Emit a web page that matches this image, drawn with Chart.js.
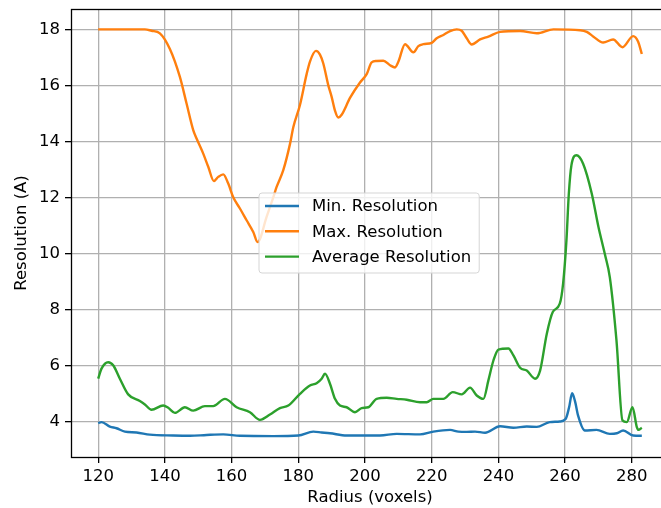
<!DOCTYPE html>
<html lang="en">
<head>
    <meta charset="UTF-8">
    <title>Resolution vs Radius</title>
    <style>
        html, body {
            margin: 0;
            padding: 0;
            background: #fff;
            overflow: hidden;
        }
        canvas {
            display: block;
        }
    </style>
</head>
<body>
    <canvas id="chart" width="672" height="508"></canvas>

    <script src="https://cdn.jsdelivr.net/npm/chart.js@4.4.0/dist/chart.umd.min.js"></script>
    <script>
        // ---- data ----
        const minRadius = [120, 121, 123.5, 125.5, 128, 131.5, 135.5, 142.5, 147.5, 152.5,
            157.5, 162.5, 172.5, 180, 184.5, 187, 189.5, 194.5, 204.5, 209.5,
            216.5, 220.5, 225.5, 228, 230.5, 233, 236, 240.5, 244.5, 248.5,
            251.5, 255.4, 258.4, 260.2, 261.2, 262.1, 263, 263.9, 265.9, 269.4,
            273.4, 275.5, 277.4, 280.4, 283];
        const minRes = [3.93, 3.97, 3.81, 3.75, 3.63, 3.6, 3.52, 3.49, 3.48, 3.51,
            3.53, 3.48, 3.47, 3.49, 3.63, 3.60, 3.57, 3.49, 3.49, 3.55,
            3.53, 3.63, 3.69, 3.63, 3.62, 3.63, 3.59, 3.82, 3.77, 3.81,
            3.80, 3.97, 3.99, 4.09, 4.5, 5.0, 4.7, 4.2, 3.67, 3.69,
            3.55, 3.57, 3.67, 3.49, 3.48];

        const maxRadius = [120, 125, 130, 134, 136, 138.5, 141.5, 144.5, 146.5, 148.5,
            149.5, 151.5, 153, 154.7, 156, 157.5, 159, 160.5, 162.5, 164.5,
            166.5, 167.8, 170.5, 172.5, 173.5, 175.5, 177.5, 178.5, 180.5, 182.5,
            183.5, 185.3, 186.5, 187.5, 189, 190, 191, 192, 193, 195.5,
            198.5, 200.5, 202, 203.5, 205.5, 207.5, 209, 210, 212, 214.5,
            216, 217.5, 220, 221.5, 223.5, 225.5, 227.5, 229, 230.5, 232,
            234.5, 237, 240.5, 246.5, 251.5, 256.5, 264.5, 266.5, 268.5, 271.4,
            274.4, 277.2, 280.4, 281.9, 283];
        const maxRes = [18, 18, 18, 18, 17.95, 17.86, 17.3, 16.3, 15.35, 14.4,
            14.1, 13.56, 13.09, 12.58, 12.73, 12.82, 12.49, 12.0, 11.6, 11.18,
            10.76, 10.4, 11.3, 12.0, 12.37, 12.97, 13.9, 14.5, 15.3, 16.4,
            16.85, 17.23, 17.1, 16.78, 16.0, 15.59, 15.1, 14.85, 14.95, 15.55,
            16.1, 16.4, 16.82, 16.87, 16.88, 16.72, 16.64, 16.84, 17.47, 17.18,
            17.4, 17.47, 17.52, 17.68, 17.8, 17.94, 18.0, 17.95, 17.68, 17.46,
            17.64, 17.74, 17.91, 17.94, 17.86, 18.0, 17.97, 17.91, 17.74, 17.53,
            17.64, 17.36, 17.76, 17.56, 17.12];

        const avgRadius = [120, 121, 123, 124.5, 126.5, 129, 132.5, 134, 136, 139.5,
            141, 143, 146, 148.5, 152, 154.5, 158, 161.5, 165.5, 168.5,
            171.5, 174.5, 177, 180.5, 183.5, 185.5, 187, 188, 189.5, 191,
            192.5, 194.5, 197, 199, 201, 203.5, 206.5, 209.5, 212.5, 216.5,
            218.5, 220.5, 223.5, 226.3, 229, 231.5, 233.5, 235.5, 237, 238.5,
            240, 243, 244.5, 246.5, 248.5, 251, 252.5, 254.5, 256.3, 258.4,
            259.4, 260.4, 261.1, 261.9, 263.4, 265.4, 268, 270, 272, 273.4,
            275.4, 277.2, 278.5, 280.2, 281.5, 282, 283];
        const avgRes = [5.52, 5.88, 6.11, 6.0, 5.52, 4.96, 4.72, 4.6, 4.41, 4.56,
            4.48, 4.30, 4.50, 4.38, 4.54, 4.54, 4.80, 4.50, 4.32, 4.05,
            4.24, 4.47, 4.56, 4.98, 5.28, 5.36, 5.52, 5.70, 5.34, 4.80,
            4.56, 4.5, 4.32, 4.47, 4.5, 4.80, 4.84, 4.80, 4.77, 4.68,
            4.68, 4.8, 4.8, 5.04, 4.96, 5.2, 4.92, 4.80, 5.46, 6.17,
            6.56, 6.6, 6.35, 5.91, 5.81, 5.52, 5.81, 7.12, 7.9, 8.2,
            8.92, 10.46, 12.1, 13.15, 13.5, 13.2, 12.13, 10.94, 9.93, 9.15,
            6.89, 4.03, 3.97, 4.5, 3.79, 3.69, 3.77];

        const seriesNames = ['Min. Resolution', 'Max. Resolution', 'Average Resolution'];
        const seriesColors = ['#1f77b4', '#ff7f0e', '#2ca02c'];
        const xTicks = [120, 140, 160, 180, 200, 220, 240, 260, 280];
        const yTicks = [4, 6, 8, 10, 12, 14, 16, 18];

        const toPoints = (xs, ys) => xs.map((x, i) => ({ x: x, y: ys[i] }));

        const FONT = "'DejaVu Sans', sans-serif";
        const FONT_SIZE = 16.5;
        Chart.defaults.color = '#000';
        Chart.defaults.font.family = FONT;
        Chart.defaults.font.size = FONT_SIZE;

        // axes box (all four spines) + legend placed inside the plot
        const framePlugin = {
            id: 'frame',
            afterDraw(chart) {
                const { ctx, chartArea: a } = chart;
                ctx.save();
                ctx.strokeStyle = '#000';
                ctx.lineWidth = 1.3;
                ctx.strokeRect(Math.round(a.left) + 0.5, Math.round(a.top) + 0.5,
                    Math.round(a.right - a.left), Math.round(a.bottom - a.top));

                // legend
                ctx.font = FONT_SIZE + 'px ' + FONT;
                const sets = chart.data.datasets;
                let textW = 0;
                sets.forEach(ds => { textW = Math.max(textW, ctx.measureText(ds.label).width); });
                const bx = a.left + 188;
                const by = a.top + 184;
                const bw = 53 + textW + 8;
                const bh = 80;
                const r = 3;
                ctx.beginPath();
                ctx.moveTo(bx + r, by);
                ctx.arcTo(bx + bw, by, bx + bw, by + bh, r);
                ctx.arcTo(bx + bw, by + bh, bx, by + bh, r);
                ctx.arcTo(bx, by + bh, bx, by, r);
                ctx.arcTo(bx, by, bx + bw, by, r);
                ctx.closePath();
                ctx.fillStyle = 'rgba(255,255,255,0.8)';
                ctx.fill();
                ctx.strokeStyle = '#d5d5d5';
                ctx.lineWidth = 1;
                ctx.stroke();

                ctx.textBaseline = 'middle';
                ctx.textAlign = 'left';
                sets.forEach((ds, i) => {
                    const yy = by + 13 + i * 25.3;
                    ctx.strokeStyle = ds.borderColor;
                    ctx.lineWidth = 2.4;
                    ctx.beginPath();
                    ctx.moveTo(bx + 6, yy);
                    ctx.lineTo(bx + 40, yy);
                    ctx.stroke();
                    ctx.fillStyle = '#000';
                    ctx.fillText(ds.label, bx + 53, yy + 1);
                });
                ctx.restore();
            }
        };

        const ctx = document.getElementById('chart');

        new Chart(ctx, {
            type: 'line',
            data: {
                datasets: [
                    { label: seriesNames[0], data: toPoints(minRadius, minRes), borderColor: seriesColors[0], order: 3 },
                    { label: seriesNames[1], data: toPoints(maxRadius, maxRes), borderColor: seriesColors[1], order: 2 },
                    { label: seriesNames[2], data: toPoints(avgRadius, avgRes), borderColor: seriesColors[2], order: 1 }
                ]
            },
            options: {
                responsive: false,
                animation: false,
                devicePixelRatio: 1,
                layout: {
                    padding: { top: 9, right: 3, left: 0, bottom: 0 }
                },
                elements: {
                    point: { radius: 0 },
                    line: { borderWidth: 2.4, fill: false, cubicInterpolationMode: 'monotone' }
                },
                plugins: {
                    legend: { display: false },
                    tooltip: { enabled: false }
                },
                scales: {
                    x: {
                        type: 'linear',
                        min: 111.85,
                        max: 291.15,
                        afterBuildTicks: (scale) => {
                            scale.ticks = xTicks.map(v => ({ value: v }));
                        },
                        afterFit: (scale) => {
                            scale.height = 51;
                            scale.paddingLeft = 0;
                            scale.paddingRight = 0;
                        },
                        ticks: { padding: 4, maxRotation: 0 },
                        grid: { color: '#b0b0b0', lineWidth: 1.3, tickColor: '#000', tickLength: 6 },
                        border: { display: false },
                        title: { display: true, text: 'Radius (voxels)', padding: { top: 0, bottom: 0 } }
                    },
                    y: {
                        min: 2.7225,
                        max: 18.7275,
                        afterBuildTicks: (scale) => {
                            scale.ticks = yTicks.map(v => ({ value: v }));
                        },
                        afterFit: (scale) => {
                            scale.width = 71;
                            scale.paddingTop = 0;
                            scale.paddingBottom = 0;
                        },
                        ticks: { padding: 5 },
                        grid: { color: '#b0b0b0', lineWidth: 1.3, tickColor: '#000', tickLength: 6 },
                        border: { display: false },
                        title: { display: true, text: 'Resolution (A)', padding: { top: 12, bottom: 0 } }
                    }
                }
            },
            plugins: [framePlugin]
        });
    </script>
</body>
</html>
